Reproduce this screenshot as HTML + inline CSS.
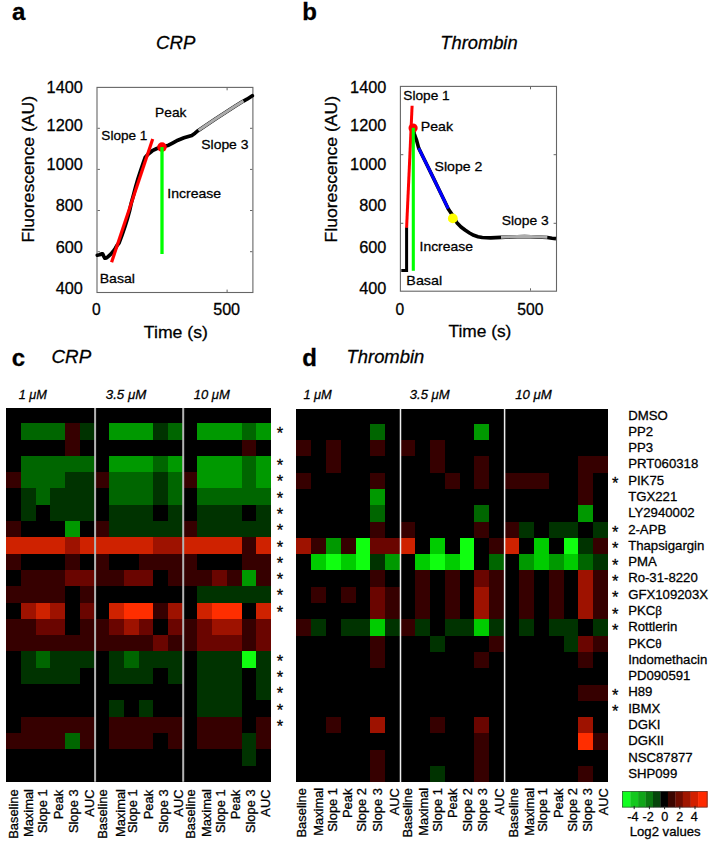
<!DOCTYPE html>
<html><head><meta charset="utf-8"><style>
html,body{margin:0;padding:0;background:#fff;}
body{width:710px;height:842px;overflow:hidden;}
svg{display:block;}
text{font-family:"Liberation Sans", sans-serif;fill:#000;stroke:#000;stroke-width:0.28px;}
text.b{font-weight:bold;}
text.i{font-style:italic;}
.sr{font-family:"Liberation Serif", serif;}
</style></head><body>
<svg width="710" height="842" viewBox="0 0 710 842">
<rect width="710" height="842" fill="#fff"/>
<g shape-rendering="crispEdges">
<rect x="6.30" y="408.00" width="264.70" height="373.79" fill="#000"/>
<rect x="21.01" y="423.30" width="44.12" height="16.30" fill="#006600"/>
<rect x="65.12" y="423.30" width="14.71" height="16.30" fill="#360000"/>
<rect x="79.83" y="423.30" width="14.71" height="16.30" fill="#003300"/>
<rect x="109.24" y="423.30" width="44.12" height="16.30" fill="#009900"/>
<rect x="153.36" y="423.30" width="14.71" height="16.30" fill="#003300"/>
<rect x="168.06" y="423.30" width="14.71" height="16.30" fill="#006600"/>
<rect x="197.47" y="423.30" width="44.12" height="16.30" fill="#009900"/>
<rect x="241.59" y="423.30" width="14.71" height="16.30" fill="#006600"/>
<rect x="256.29" y="423.30" width="14.71" height="16.30" fill="#009900"/>
<rect x="65.12" y="439.60" width="14.71" height="16.29" fill="#360000"/>
<rect x="241.59" y="439.60" width="14.71" height="16.29" fill="#360000"/>
<rect x="21.01" y="455.89" width="73.53" height="16.30" fill="#006600"/>
<rect x="109.24" y="455.89" width="44.12" height="16.30" fill="#009900"/>
<rect x="153.36" y="455.89" width="14.71" height="16.30" fill="#006600"/>
<rect x="168.06" y="455.89" width="14.71" height="16.30" fill="#009900"/>
<rect x="197.47" y="455.89" width="44.12" height="16.30" fill="#009900"/>
<rect x="241.59" y="455.89" width="14.71" height="16.30" fill="#006600"/>
<rect x="256.29" y="455.89" width="14.71" height="16.30" fill="#009900"/>
<rect x="6.30" y="472.19" width="14.71" height="16.30" fill="#360000"/>
<rect x="21.01" y="472.19" width="44.12" height="16.30" fill="#006600"/>
<rect x="65.12" y="472.19" width="29.41" height="16.30" fill="#003300"/>
<rect x="94.53" y="472.19" width="14.71" height="16.30" fill="#360000"/>
<rect x="109.24" y="472.19" width="44.12" height="16.30" fill="#006600"/>
<rect x="153.36" y="472.19" width="14.71" height="16.30" fill="#003300"/>
<rect x="168.06" y="472.19" width="14.71" height="16.30" fill="#006600"/>
<rect x="182.77" y="472.19" width="14.71" height="16.30" fill="#360000"/>
<rect x="197.47" y="472.19" width="44.12" height="16.30" fill="#009900"/>
<rect x="241.59" y="472.19" width="14.71" height="16.30" fill="#006600"/>
<rect x="256.29" y="472.19" width="14.71" height="16.30" fill="#009900"/>
<rect x="21.01" y="488.48" width="14.71" height="16.30" fill="#003300"/>
<rect x="35.71" y="488.48" width="14.71" height="16.30" fill="#006600"/>
<rect x="50.42" y="488.48" width="44.12" height="16.30" fill="#003300"/>
<rect x="109.24" y="488.48" width="44.12" height="16.30" fill="#006600"/>
<rect x="153.36" y="488.48" width="14.71" height="16.30" fill="#003300"/>
<rect x="168.06" y="488.48" width="14.71" height="16.30" fill="#006600"/>
<rect x="197.47" y="488.48" width="73.53" height="16.30" fill="#006600"/>
<rect x="21.01" y="504.78" width="14.71" height="16.30" fill="#003300"/>
<rect x="50.42" y="504.78" width="44.12" height="16.30" fill="#003300"/>
<rect x="109.24" y="504.78" width="44.12" height="16.30" fill="#003300"/>
<rect x="168.06" y="504.78" width="14.71" height="16.30" fill="#003300"/>
<rect x="197.47" y="504.78" width="44.12" height="16.30" fill="#003300"/>
<rect x="256.29" y="504.78" width="14.71" height="16.30" fill="#003300"/>
<rect x="6.30" y="521.07" width="14.71" height="16.29" fill="#360000"/>
<rect x="65.12" y="521.07" width="14.71" height="16.29" fill="#009900"/>
<rect x="94.53" y="521.07" width="14.71" height="16.29" fill="#360000"/>
<rect x="109.24" y="521.07" width="73.53" height="16.29" fill="#003300"/>
<rect x="182.77" y="521.07" width="14.71" height="16.29" fill="#360000"/>
<rect x="197.47" y="521.07" width="73.53" height="16.29" fill="#003300"/>
<rect x="6.30" y="537.37" width="58.82" height="16.30" fill="#cf2200"/>
<rect x="65.12" y="537.37" width="14.71" height="16.30" fill="#9e1200"/>
<rect x="79.83" y="537.37" width="73.53" height="16.30" fill="#cf2200"/>
<rect x="153.36" y="537.37" width="29.41" height="16.30" fill="#9e1200"/>
<rect x="182.77" y="537.37" width="58.82" height="16.30" fill="#cf2200"/>
<rect x="241.59" y="537.37" width="14.71" height="16.30" fill="#360000"/>
<rect x="256.29" y="537.37" width="14.71" height="16.30" fill="#cf2200"/>
<rect x="6.30" y="553.66" width="14.71" height="16.29" fill="#360000"/>
<rect x="65.12" y="553.66" width="14.71" height="16.29" fill="#360000"/>
<rect x="94.53" y="553.66" width="14.71" height="16.29" fill="#360000"/>
<rect x="138.65" y="553.66" width="58.82" height="16.29" fill="#360000"/>
<rect x="241.59" y="553.66" width="29.41" height="16.29" fill="#360000"/>
<rect x="21.01" y="569.96" width="44.12" height="16.29" fill="#360000"/>
<rect x="65.12" y="569.96" width="29.41" height="16.29" fill="#6a0500"/>
<rect x="94.53" y="569.96" width="29.41" height="16.29" fill="#360000"/>
<rect x="123.94" y="569.96" width="29.41" height="16.29" fill="#6a0500"/>
<rect x="168.06" y="569.96" width="44.12" height="16.29" fill="#360000"/>
<rect x="212.18" y="569.96" width="14.71" height="16.29" fill="#6a0500"/>
<rect x="226.88" y="569.96" width="14.71" height="16.29" fill="#360000"/>
<rect x="241.59" y="569.96" width="14.71" height="16.29" fill="#009900"/>
<rect x="256.29" y="569.96" width="14.71" height="16.29" fill="#360000"/>
<rect x="6.30" y="586.25" width="58.82" height="16.30" fill="#360000"/>
<rect x="79.83" y="586.25" width="14.71" height="16.30" fill="#360000"/>
<rect x="197.47" y="586.25" width="73.53" height="16.30" fill="#003300"/>
<rect x="21.01" y="602.55" width="14.71" height="16.29" fill="#9e1200"/>
<rect x="35.71" y="602.55" width="14.71" height="16.29" fill="#cf2200"/>
<rect x="50.42" y="602.55" width="14.71" height="16.29" fill="#9e1200"/>
<rect x="79.83" y="602.55" width="14.71" height="16.29" fill="#6a0500"/>
<rect x="109.24" y="602.55" width="14.71" height="16.29" fill="#cf2200"/>
<rect x="123.94" y="602.55" width="29.41" height="16.29" fill="#ff2e00"/>
<rect x="153.36" y="602.55" width="14.71" height="16.29" fill="#360000"/>
<rect x="168.06" y="602.55" width="14.71" height="16.29" fill="#9e1200"/>
<rect x="197.47" y="602.55" width="14.71" height="16.29" fill="#cf2200"/>
<rect x="212.18" y="602.55" width="29.41" height="16.29" fill="#ff2e00"/>
<rect x="256.29" y="602.55" width="14.71" height="16.29" fill="#cf2200"/>
<rect x="6.30" y="618.84" width="29.41" height="16.29" fill="#360000"/>
<rect x="35.71" y="618.84" width="29.41" height="16.29" fill="#6a0500"/>
<rect x="79.83" y="618.84" width="29.41" height="16.29" fill="#360000"/>
<rect x="109.24" y="618.84" width="14.71" height="16.29" fill="#6a0500"/>
<rect x="123.94" y="618.84" width="14.71" height="16.29" fill="#9e1200"/>
<rect x="138.65" y="618.84" width="14.71" height="16.29" fill="#6a0500"/>
<rect x="168.06" y="618.84" width="14.71" height="16.29" fill="#6a0500"/>
<rect x="182.77" y="618.84" width="14.71" height="16.29" fill="#360000"/>
<rect x="197.47" y="618.84" width="14.71" height="16.29" fill="#6a0500"/>
<rect x="212.18" y="618.84" width="29.41" height="16.29" fill="#9e1200"/>
<rect x="241.59" y="618.84" width="14.71" height="16.29" fill="#360000"/>
<rect x="256.29" y="618.84" width="14.71" height="16.29" fill="#6a0500"/>
<rect x="6.30" y="635.13" width="147.06" height="16.30" fill="#360000"/>
<rect x="153.36" y="635.13" width="14.71" height="16.30" fill="#6a0500"/>
<rect x="168.06" y="635.13" width="29.41" height="16.30" fill="#360000"/>
<rect x="197.47" y="635.13" width="44.12" height="16.30" fill="#6a0500"/>
<rect x="241.59" y="635.13" width="14.71" height="16.30" fill="#360000"/>
<rect x="256.29" y="635.13" width="14.71" height="16.30" fill="#6a0500"/>
<rect x="21.01" y="651.43" width="14.71" height="16.29" fill="#003300"/>
<rect x="35.71" y="651.43" width="14.71" height="16.29" fill="#006600"/>
<rect x="50.42" y="651.43" width="44.12" height="16.29" fill="#003300"/>
<rect x="109.24" y="651.43" width="14.71" height="16.29" fill="#003300"/>
<rect x="123.94" y="651.43" width="14.71" height="16.29" fill="#006600"/>
<rect x="138.65" y="651.43" width="44.12" height="16.29" fill="#003300"/>
<rect x="197.47" y="651.43" width="44.12" height="16.29" fill="#003300"/>
<rect x="241.59" y="651.43" width="14.71" height="16.29" fill="#10ff10"/>
<rect x="256.29" y="651.43" width="14.71" height="16.29" fill="#003300"/>
<rect x="21.01" y="667.73" width="58.82" height="16.29" fill="#003300"/>
<rect x="109.24" y="667.73" width="44.12" height="16.29" fill="#003300"/>
<rect x="168.06" y="667.73" width="14.71" height="16.29" fill="#003300"/>
<rect x="197.47" y="667.73" width="44.12" height="16.29" fill="#003300"/>
<rect x="256.29" y="667.73" width="14.71" height="16.29" fill="#003300"/>
<rect x="197.47" y="684.02" width="44.12" height="16.30" fill="#003300"/>
<rect x="256.29" y="684.02" width="14.71" height="16.30" fill="#003300"/>
<rect x="109.24" y="700.32" width="14.71" height="16.30" fill="#003300"/>
<rect x="138.65" y="700.32" width="14.71" height="16.30" fill="#003300"/>
<rect x="197.47" y="700.32" width="44.12" height="16.30" fill="#003300"/>
<rect x="21.01" y="716.61" width="73.53" height="16.29" fill="#360000"/>
<rect x="109.24" y="716.61" width="73.53" height="16.29" fill="#360000"/>
<rect x="197.47" y="716.61" width="44.12" height="16.29" fill="#360000"/>
<rect x="256.29" y="716.61" width="14.71" height="16.29" fill="#360000"/>
<rect x="6.30" y="732.90" width="58.82" height="16.30" fill="#360000"/>
<rect x="65.12" y="732.90" width="14.71" height="16.30" fill="#006600"/>
<rect x="79.83" y="732.90" width="14.71" height="16.30" fill="#360000"/>
<rect x="109.24" y="732.90" width="44.12" height="16.30" fill="#360000"/>
<rect x="168.06" y="732.90" width="14.71" height="16.30" fill="#360000"/>
<rect x="197.47" y="732.90" width="44.12" height="16.30" fill="#360000"/>
<rect x="241.59" y="732.90" width="14.71" height="16.30" fill="#003300"/>
<rect x="256.29" y="732.90" width="14.71" height="16.30" fill="#360000"/>
<rect x="241.59" y="749.20" width="14.71" height="16.30" fill="#003300"/>
<rect x="296.20" y="408.70" width="312.00" height="373.59" fill="#000"/>
<rect x="370.49" y="423.80" width="14.86" height="16.30" fill="#006600"/>
<rect x="474.49" y="423.80" width="14.86" height="16.30" fill="#009900"/>
<rect x="296.20" y="440.10" width="14.86" height="16.29" fill="#360000"/>
<rect x="325.91" y="440.10" width="14.86" height="16.29" fill="#360000"/>
<rect x="370.49" y="440.10" width="14.86" height="16.29" fill="#360000"/>
<rect x="400.20" y="440.10" width="14.86" height="16.29" fill="#360000"/>
<rect x="429.91" y="440.10" width="14.86" height="16.29" fill="#360000"/>
<rect x="325.91" y="456.39" width="14.86" height="16.30" fill="#360000"/>
<rect x="429.91" y="456.39" width="14.86" height="16.30" fill="#360000"/>
<rect x="474.49" y="456.39" width="14.86" height="16.30" fill="#360000"/>
<rect x="578.49" y="456.39" width="29.71" height="16.30" fill="#360000"/>
<rect x="296.20" y="472.69" width="14.86" height="16.30" fill="#360000"/>
<rect x="370.49" y="472.69" width="14.86" height="16.30" fill="#360000"/>
<rect x="444.77" y="472.69" width="14.86" height="16.30" fill="#360000"/>
<rect x="474.49" y="472.69" width="14.86" height="16.30" fill="#360000"/>
<rect x="504.20" y="472.69" width="44.57" height="16.30" fill="#360000"/>
<rect x="578.49" y="472.69" width="14.86" height="16.30" fill="#360000"/>
<rect x="370.49" y="488.98" width="14.86" height="16.30" fill="#009900"/>
<rect x="578.49" y="488.98" width="14.86" height="16.30" fill="#360000"/>
<rect x="370.49" y="505.28" width="14.86" height="16.30" fill="#006600"/>
<rect x="474.49" y="505.28" width="14.86" height="16.30" fill="#006600"/>
<rect x="578.49" y="505.28" width="14.86" height="16.30" fill="#009900"/>
<rect x="370.49" y="521.57" width="14.86" height="16.29" fill="#360000"/>
<rect x="400.20" y="521.57" width="14.86" height="16.29" fill="#360000"/>
<rect x="474.49" y="521.57" width="14.86" height="16.29" fill="#360000"/>
<rect x="504.20" y="521.57" width="14.86" height="16.29" fill="#360000"/>
<rect x="519.06" y="521.57" width="14.86" height="16.29" fill="#003300"/>
<rect x="548.77" y="521.57" width="29.71" height="16.29" fill="#003300"/>
<rect x="593.34" y="521.57" width="14.86" height="16.29" fill="#003300"/>
<rect x="296.20" y="537.87" width="14.86" height="16.30" fill="#9e1200"/>
<rect x="311.06" y="537.87" width="14.86" height="16.30" fill="#360000"/>
<rect x="325.91" y="537.87" width="14.86" height="16.30" fill="#009900"/>
<rect x="340.77" y="537.87" width="14.86" height="16.30" fill="#360000"/>
<rect x="355.63" y="537.87" width="14.86" height="16.30" fill="#10ff10"/>
<rect x="370.49" y="537.87" width="29.71" height="16.30" fill="#6a0500"/>
<rect x="400.20" y="537.87" width="14.86" height="16.30" fill="#cf2200"/>
<rect x="429.91" y="537.87" width="14.86" height="16.30" fill="#00cc00"/>
<rect x="459.63" y="537.87" width="14.86" height="16.30" fill="#10ff10"/>
<rect x="489.34" y="537.87" width="14.86" height="16.30" fill="#360000"/>
<rect x="504.20" y="537.87" width="14.86" height="16.30" fill="#cf2200"/>
<rect x="533.91" y="537.87" width="14.86" height="16.30" fill="#00cc00"/>
<rect x="563.63" y="537.87" width="14.86" height="16.30" fill="#10ff10"/>
<rect x="578.49" y="537.87" width="14.86" height="16.30" fill="#003300"/>
<rect x="593.34" y="537.87" width="14.86" height="16.30" fill="#360000"/>
<rect x="311.06" y="554.16" width="14.86" height="16.29" fill="#00cc00"/>
<rect x="325.91" y="554.16" width="14.86" height="16.29" fill="#10ff10"/>
<rect x="340.77" y="554.16" width="14.86" height="16.29" fill="#00cc00"/>
<rect x="355.63" y="554.16" width="14.86" height="16.29" fill="#10ff10"/>
<rect x="370.49" y="554.16" width="14.86" height="16.29" fill="#003300"/>
<rect x="385.34" y="554.16" width="14.86" height="16.29" fill="#009900"/>
<rect x="415.06" y="554.16" width="14.86" height="16.29" fill="#00cc00"/>
<rect x="429.91" y="554.16" width="14.86" height="16.29" fill="#10ff10"/>
<rect x="444.77" y="554.16" width="14.86" height="16.29" fill="#00cc00"/>
<rect x="459.63" y="554.16" width="14.86" height="16.29" fill="#10ff10"/>
<rect x="489.34" y="554.16" width="14.86" height="16.29" fill="#006600"/>
<rect x="519.06" y="554.16" width="14.86" height="16.29" fill="#009900"/>
<rect x="533.91" y="554.16" width="14.86" height="16.29" fill="#00cc00"/>
<rect x="548.77" y="554.16" width="14.86" height="16.29" fill="#009900"/>
<rect x="563.63" y="554.16" width="14.86" height="16.29" fill="#00cc00"/>
<rect x="578.49" y="554.16" width="14.86" height="16.29" fill="#006600"/>
<rect x="593.34" y="554.16" width="14.86" height="16.29" fill="#003300"/>
<rect x="370.49" y="570.46" width="14.86" height="16.29" fill="#360000"/>
<rect x="415.06" y="570.46" width="14.86" height="16.29" fill="#360000"/>
<rect x="444.77" y="570.46" width="14.86" height="16.29" fill="#360000"/>
<rect x="474.49" y="570.46" width="14.86" height="16.29" fill="#6a0500"/>
<rect x="489.34" y="570.46" width="14.86" height="16.29" fill="#360000"/>
<rect x="519.06" y="570.46" width="14.86" height="16.29" fill="#360000"/>
<rect x="548.77" y="570.46" width="14.86" height="16.29" fill="#360000"/>
<rect x="578.49" y="570.46" width="14.86" height="16.29" fill="#9e1200"/>
<rect x="593.34" y="570.46" width="14.86" height="16.29" fill="#360000"/>
<rect x="311.06" y="586.75" width="14.86" height="16.30" fill="#360000"/>
<rect x="340.77" y="586.75" width="14.86" height="16.30" fill="#360000"/>
<rect x="370.49" y="586.75" width="14.86" height="16.30" fill="#6a0500"/>
<rect x="385.34" y="586.75" width="14.86" height="16.30" fill="#360000"/>
<rect x="415.06" y="586.75" width="14.86" height="16.30" fill="#360000"/>
<rect x="444.77" y="586.75" width="14.86" height="16.30" fill="#360000"/>
<rect x="474.49" y="586.75" width="14.86" height="16.30" fill="#9e1200"/>
<rect x="489.34" y="586.75" width="14.86" height="16.30" fill="#360000"/>
<rect x="519.06" y="586.75" width="14.86" height="16.30" fill="#360000"/>
<rect x="548.77" y="586.75" width="14.86" height="16.30" fill="#360000"/>
<rect x="578.49" y="586.75" width="14.86" height="16.30" fill="#9e1200"/>
<rect x="593.34" y="586.75" width="14.86" height="16.30" fill="#360000"/>
<rect x="370.49" y="603.05" width="14.86" height="16.29" fill="#6a0500"/>
<rect x="385.34" y="603.05" width="14.86" height="16.29" fill="#360000"/>
<rect x="415.06" y="603.05" width="14.86" height="16.29" fill="#360000"/>
<rect x="444.77" y="603.05" width="14.86" height="16.29" fill="#360000"/>
<rect x="474.49" y="603.05" width="14.86" height="16.29" fill="#9e1200"/>
<rect x="489.34" y="603.05" width="14.86" height="16.29" fill="#360000"/>
<rect x="519.06" y="603.05" width="14.86" height="16.29" fill="#360000"/>
<rect x="548.77" y="603.05" width="14.86" height="16.29" fill="#360000"/>
<rect x="578.49" y="603.05" width="14.86" height="16.29" fill="#9e1200"/>
<rect x="593.34" y="603.05" width="14.86" height="16.29" fill="#360000"/>
<rect x="296.20" y="619.34" width="14.86" height="16.29" fill="#360000"/>
<rect x="311.06" y="619.34" width="14.86" height="16.29" fill="#003300"/>
<rect x="340.77" y="619.34" width="29.71" height="16.29" fill="#003300"/>
<rect x="370.49" y="619.34" width="14.86" height="16.29" fill="#00cc00"/>
<rect x="385.34" y="619.34" width="14.86" height="16.29" fill="#003300"/>
<rect x="400.20" y="619.34" width="14.86" height="16.29" fill="#360000"/>
<rect x="415.06" y="619.34" width="14.86" height="16.29" fill="#003300"/>
<rect x="444.77" y="619.34" width="29.71" height="16.29" fill="#003300"/>
<rect x="474.49" y="619.34" width="14.86" height="16.29" fill="#00cc00"/>
<rect x="489.34" y="619.34" width="14.86" height="16.29" fill="#003300"/>
<rect x="519.06" y="619.34" width="14.86" height="16.29" fill="#003300"/>
<rect x="548.77" y="619.34" width="29.71" height="16.29" fill="#003300"/>
<rect x="593.34" y="619.34" width="14.86" height="16.29" fill="#003300"/>
<rect x="370.49" y="635.63" width="14.86" height="16.30" fill="#360000"/>
<rect x="429.91" y="635.63" width="14.86" height="16.30" fill="#003300"/>
<rect x="489.34" y="635.63" width="14.86" height="16.30" fill="#360000"/>
<rect x="563.63" y="635.63" width="14.86" height="16.30" fill="#003300"/>
<rect x="578.49" y="635.63" width="14.86" height="16.30" fill="#6a0500"/>
<rect x="593.34" y="635.63" width="14.86" height="16.30" fill="#360000"/>
<rect x="370.49" y="651.93" width="14.86" height="16.29" fill="#360000"/>
<rect x="474.49" y="651.93" width="14.86" height="16.29" fill="#360000"/>
<rect x="578.49" y="651.93" width="14.86" height="16.29" fill="#360000"/>
<rect x="578.49" y="684.52" width="29.71" height="16.30" fill="#360000"/>
<rect x="325.91" y="717.11" width="14.86" height="16.29" fill="#360000"/>
<rect x="370.49" y="717.11" width="14.86" height="16.29" fill="#9e1200"/>
<rect x="429.91" y="717.11" width="14.86" height="16.29" fill="#360000"/>
<rect x="474.49" y="717.11" width="14.86" height="16.29" fill="#6a0500"/>
<rect x="578.49" y="717.11" width="14.86" height="16.29" fill="#9e1200"/>
<rect x="474.49" y="733.40" width="14.86" height="16.30" fill="#360000"/>
<rect x="578.49" y="733.40" width="14.86" height="16.30" fill="#ff2e00"/>
<rect x="593.34" y="733.40" width="14.86" height="16.30" fill="#360000"/>
<rect x="370.49" y="749.70" width="14.86" height="16.30" fill="#360000"/>
<rect x="474.49" y="749.70" width="14.86" height="16.30" fill="#360000"/>
<rect x="370.49" y="766.00" width="14.86" height="16.29" fill="#360000"/>
<rect x="429.91" y="766.00" width="14.86" height="16.29" fill="#003300"/>
<rect x="474.49" y="766.00" width="14.86" height="16.29" fill="#360000"/>
<rect x="578.49" y="766.00" width="14.86" height="16.29" fill="#360000"/>
</g>
<rect x="94.10" y="408.00" width="2.00" height="373.79" fill="#b4b4b4"/>
<rect x="182.20" y="408.00" width="2.00" height="373.79" fill="#b4b4b4"/>
<rect x="399.75" y="408.70" width="1.50" height="373.59" fill="#eeeeee"/>
<rect x="503.85" y="408.70" width="1.50" height="373.59" fill="#eeeeee"/>
<rect x="622.15" y="791.2" width="8.45" height="16.20" fill="#10ff20"/>
<rect x="630.30" y="791.2" width="8.10" height="16.20" fill="#14c81e"/>
<rect x="638.10" y="791.2" width="7.70" height="16.20" fill="#10a518"/>
<rect x="645.50" y="791.2" width="7.80" height="16.20" fill="#0a780f"/>
<rect x="653.00" y="791.2" width="7.70" height="16.20" fill="#05460a"/>
<rect x="660.40" y="791.2" width="7.80" height="16.20" fill="#000000"/>
<rect x="667.90" y="791.2" width="7.80" height="16.20" fill="#3c0500"/>
<rect x="675.40" y="791.2" width="7.70" height="16.20" fill="#6e0c00"/>
<rect x="682.80" y="791.2" width="8.10" height="16.20" fill="#a01600"/>
<rect x="690.60" y="791.2" width="7.80" height="16.20" fill="#d22000"/>
<rect x="698.10" y="791.2" width="9.60" height="16.20" fill="#ff2a00"/>
<rect x="622.40" y="791.50" width="84.70" height="15.60" fill="none" stroke="#333" stroke-width="0.6"/>
<line x1="634.2" y1="805.9" x2="634.2" y2="809.1999999999999" stroke="#222" stroke-width="1"/>
<line x1="649.4" y1="805.9" x2="649.4" y2="809.1999999999999" stroke="#222" stroke-width="1"/>
<line x1="664.6" y1="805.9" x2="664.6" y2="809.1999999999999" stroke="#222" stroke-width="1"/>
<line x1="679.8" y1="805.9" x2="679.8" y2="809.1999999999999" stroke="#222" stroke-width="1"/>
<line x1="695.0" y1="805.9" x2="695.0" y2="809.1999999999999" stroke="#222" stroke-width="1"/>
<rect x="97.00" y="87.40" width="155.90" height="205.10" fill="none" stroke="#666" stroke-width="1.1"/>
<path d="M227.10 87.90v2.4M227.10 292.00v-2.4" stroke="#666" stroke-width="1"/>
<path d="M97.50 128.30h2.4M252.40 128.30h-2.4" stroke="#666" stroke-width="1"/>
<path d="M97.50 169.40h2.4M252.40 169.40h-2.4" stroke="#666" stroke-width="1"/>
<path d="M97.50 210.50h2.4M252.40 210.50h-2.4" stroke="#666" stroke-width="1"/>
<path d="M97.50 251.70h2.4M252.40 251.70h-2.4" stroke="#666" stroke-width="1"/>
<rect x="400.40" y="86.40" width="156.10" height="204.80" fill="none" stroke="#666" stroke-width="1.1"/>
<path d="M530.50 86.90v2.4M530.50 290.70v-2.4" stroke="#666" stroke-width="1"/>
<path d="M400.90 154.70h2.4M556.00 154.70h-2.4" stroke="#666" stroke-width="1"/>
<path d="M400.90 223.30h2.4M556.00 223.30h-2.4" stroke="#666" stroke-width="1"/>
<polyline points="97.3,255.2 99.5,254.8 101.5,253.9 102.6,253.9 103.8,256.4 104.9,258.2 106.5,257.9 107.8,256.8 110.8,254.1 113.3,251.2 115.2,248.5 117.0,245.5 119.0,243.0 122.0,235.0 124.8,227.0 127.3,219.0 129.5,211.0 131.3,203.0 133.5,195.0 135.6,187.0 137.9,179.0 140.5,171.0 143.2,163.0 145.3,157.2 148.0,154.3 152.4,150.7 156.9,148.5 159.6,147.6 162.0,147.0 165.0,146.3 168.6,145.2 173.0,142.8 177.9,140.2 184.0,137.8 191.8,135.4 195.0,133.2 198.0,130.7 205.0,126.0 215.0,119.3 225.0,112.7 235.0,106.3 243.0,101.3 247.0,99.2 252.3,95.8" fill="none" stroke="#000" stroke-width="3.7" stroke-linejoin="round" stroke-linecap="round"/>
<polyline points="198.5,130.4 205.0,126.0 215.0,119.3 225.0,112.7 235.0,106.3 243.5,101.0" fill="none" stroke="#acacac" stroke-width="2.9" stroke-linejoin="round"/>
<line x1="111.6" y1="262.2" x2="152.7" y2="139.0" stroke="#f00" stroke-width="3.2"/>
<circle cx="162.0" cy="147.1" r="4.8" fill="#f00"/>
<line x1="162.0" y1="147.1" x2="162.0" y2="254.0" stroke="#0f0" stroke-width="3.3"/>
<polyline points="401.3,270.6 406.6,270.6 406.6,227.3" fill="none" stroke="#000" stroke-width="3" stroke-linejoin="miter"/>
<polyline points="413.0,128.8 414.2,133.5 416.5,140.0 418.7,148.1 423.3,157.5 428.0,167.0 433.2,177.6 437.5,186.5 441.6,195.0 445.0,202.0 448.2,208.7 452.7,215.5 456.9,222.7 461.0,227.0 465.4,230.3 469.5,233.0 473.8,235.3 478.0,236.7 482.3,237.5 490.7,237.9 500.8,237.4 510.0,237.0 524.5,236.5 537.0,237.0 547.3,237.5 552.0,238.2 556.0,238.6" fill="none" stroke="#000" stroke-width="3.6" stroke-linejoin="round"/>
<polyline points="418.7,148.1 423.3,157.5 428.0,167.0 433.2,177.6 437.5,186.5 441.6,195.0 445.0,202.0 448.2,208.7" fill="none" stroke="#00f" stroke-width="3.0" stroke-linejoin="round"/>
<polyline points="501.0,237.2 510.0,236.8 524.5,236.3 537.0,236.8 547.3,237.3" fill="none" stroke="#acacac" stroke-width="2.9" stroke-linejoin="round"/>
<line x1="406.6" y1="227.8" x2="412.1" y2="105.8" stroke="#f00" stroke-width="3.0"/>
<circle cx="413.1" cy="128.1" r="4.6" fill="#f00"/>
<line x1="413.3" y1="127.8" x2="413.3" y2="270.8" stroke="#0f0" stroke-width="3.1"/>
<circle cx="452.8" cy="218.4" r="4.9" fill="#ff0"/>
<text x="11.98" y="19.90" font-size="24.00" class="b">a</text>
<text x="302.24" y="19.90" font-size="24.00" class="b">b</text>
<text x="11.84" y="365.60" font-size="24.00" class="b">c</text>
<text x="302.14" y="365.60" font-size="24.00" class="b">d</text>
<text x="156.07" y="49.00" font-size="18.60" class="i">CRP</text>
<text x="440.35" y="48.80" font-size="18.40" class="i" textLength="77.25" lengthAdjust="spacingAndGlyphs">Thrombin</text>
<text x="51.57" y="363.40" font-size="18.60" class="i" textLength="39.65" lengthAdjust="spacingAndGlyphs">CRP</text>
<text x="346.55" y="363.20" font-size="18.40" class="i">Thrombin</text>
<text x="18.68" y="399.20" font-size="13.00" class="i" textLength="28.22" lengthAdjust="spacingAndGlyphs">1 μM</text>
<text x="105.77" y="399.20" font-size="13.00" class="i" textLength="40.52" lengthAdjust="spacingAndGlyphs">3.5 μM</text>
<text x="193.78" y="399.20" font-size="13.00" class="i">10 μM</text>
<text x="303.38" y="399.20" font-size="13.00" class="i" textLength="28.42" lengthAdjust="spacingAndGlyphs">1 μM</text>
<text x="409.77" y="399.20" font-size="13.00" class="i" textLength="39.91" lengthAdjust="spacingAndGlyphs">3.5 μM</text>
<text x="515.27" y="399.20" font-size="13.00" class="i" textLength="36.58" lengthAdjust="spacingAndGlyphs">10 μM</text>
<text x="46.60" y="92.81" font-size="16.30">1400</text>
<text x="350.10" y="93.01" font-size="16.30">1400</text>
<text x="46.60" y="130.71" font-size="16.30">1200</text>
<text x="350.10" y="130.91" font-size="16.30">1200</text>
<text x="46.60" y="170.21" font-size="16.30">1000</text>
<text x="350.10" y="170.41" font-size="16.30">1000</text>
<text x="55.73" y="211.21" font-size="16.30">800</text>
<text x="359.23" y="211.41" font-size="16.30">800</text>
<text x="55.73" y="252.71" font-size="16.30">600</text>
<text x="359.23" y="252.91" font-size="16.30">600</text>
<text x="55.73" y="294.21" font-size="16.30">400</text>
<text x="359.23" y="294.41" font-size="16.30">400</text>
<text x="91.98" y="315.02" font-size="15.60">0</text>
<text x="213.15" y="315.32" font-size="15.60" textLength="26.97" lengthAdjust="spacingAndGlyphs">500</text>
<text x="395.38" y="314.82" font-size="15.60">0</text>
<text x="517.27" y="314.82" font-size="15.60" textLength="26.23" lengthAdjust="spacingAndGlyphs">500</text>
<text x="143.85" y="338.10" font-size="17.00" textLength="64.08" lengthAdjust="spacingAndGlyphs">Time (s)</text>
<text x="448.45" y="337.40" font-size="17.00" textLength="62.96" lengthAdjust="spacingAndGlyphs">Time (s)</text>
<text font-size="17.20" transform="translate(33.70,242.41) rotate(-90)" textLength="146.48" lengthAdjust="spacingAndGlyphs">Fluorescence (AU)</text>
<text font-size="17.20" transform="translate(337.30,242.41) rotate(-90)" textLength="146.48" lengthAdjust="spacingAndGlyphs">Fluorescence (AU)</text>
<text x="101.39" y="139.80" font-size="13.50" textLength="46.05" lengthAdjust="spacingAndGlyphs">Slope 1</text>
<text x="155.10" y="116.80" font-size="13.50" textLength="31.29" lengthAdjust="spacingAndGlyphs">Peak</text>
<text x="201.27" y="148.50" font-size="13.50" textLength="47.21" lengthAdjust="spacingAndGlyphs">Slope 3</text>
<text x="167.34" y="198.40" font-size="13.50" textLength="53.80" lengthAdjust="spacingAndGlyphs">Increase</text>
<text x="99.67" y="283.20" font-size="13.50" textLength="35.27" lengthAdjust="spacingAndGlyphs">Basal</text>
<text x="403.38" y="100.20" font-size="13.50" textLength="46.35" lengthAdjust="spacingAndGlyphs">Slope 1</text>
<text x="420.87" y="131.40" font-size="13.50" textLength="32.12" lengthAdjust="spacingAndGlyphs">Peak</text>
<text x="434.56" y="171.00" font-size="13.50" textLength="47.86" lengthAdjust="spacingAndGlyphs">Slope 2</text>
<text x="501.78" y="224.60" font-size="13.50" textLength="47.00" lengthAdjust="spacingAndGlyphs">Slope 3</text>
<text x="419.55" y="250.60" font-size="13.50" textLength="53.39" lengthAdjust="spacingAndGlyphs">Increase</text>
<text x="406.36" y="284.70" font-size="13.50" textLength="35.80" lengthAdjust="spacingAndGlyphs">Basal</text>
<text x="276.85" y="438.53" font-size="16.50">*</text>
<text x="276.85" y="471.12" font-size="16.50">*</text>
<text x="276.85" y="487.42" font-size="16.50">*</text>
<text x="276.85" y="503.71" font-size="16.50">*</text>
<text x="276.85" y="520.01" font-size="16.50">*</text>
<text x="276.85" y="536.30" font-size="16.50">*</text>
<text x="276.85" y="552.60" font-size="16.50">*</text>
<text x="276.85" y="568.89" font-size="16.50">*</text>
<text x="276.85" y="585.19" font-size="16.50">*</text>
<text x="276.85" y="601.48" font-size="16.50">*</text>
<text x="276.85" y="617.78" font-size="16.50">*</text>
<text x="276.85" y="666.66" font-size="16.50">*</text>
<text x="276.85" y="682.96" font-size="16.50">*</text>
<text x="276.85" y="699.25" font-size="16.50">*</text>
<text x="276.85" y="715.55" font-size="16.50">*</text>
<text x="276.85" y="731.84" font-size="16.50">*</text>
<text x="611.95" y="489.22" font-size="16.50">*</text>
<text x="611.95" y="538.10" font-size="16.50">*</text>
<text x="611.95" y="554.40" font-size="16.50">*</text>
<text x="611.95" y="570.69" font-size="16.50">*</text>
<text x="611.95" y="586.99" font-size="16.50">*</text>
<text x="611.95" y="603.28" font-size="16.50">*</text>
<text x="611.95" y="619.58" font-size="16.50">*</text>
<text x="611.95" y="635.87" font-size="16.50">*</text>
<text x="611.95" y="701.05" font-size="16.50">*</text>
<text x="611.95" y="717.35" font-size="16.50">*</text>
<text x="628.14" y="420.05" font-size="13.2">DMSO</text>
<text x="628.14" y="435.75" font-size="13.2">PP2</text>
<text x="628.14" y="452.04" font-size="13.2">PP3</text>
<text x="628.14" y="468.34" font-size="13.2">PRT060318</text>
<text x="628.14" y="484.63" font-size="13.2">PIK75</text>
<text x="628.14" y="500.93" font-size="13.2">TGX221</text>
<text x="628.14" y="517.22" font-size="13.2">LY2940002</text>
<text x="628.14" y="533.52" font-size="13.2">2-APB</text>
<text x="628.14" y="549.81" font-size="13.2">Thapsigargin</text>
<text x="628.14" y="566.11" font-size="13.2">PMA</text>
<text x="628.14" y="582.40" font-size="13.2">Ro-31-8220</text>
<text x="628.14" y="598.70" font-size="13.2">GFX109203X</text>
<text x="628.14" y="614.99" font-size="13.2">PKC<tspan class="sr">β</tspan></text>
<text x="628.14" y="631.29" font-size="13.2">Rottlerin</text>
<text x="628.14" y="647.58" font-size="13.2">PKC<tspan class="sr">θ</tspan></text>
<text x="628.14" y="663.88" font-size="13.2">Indomethacin</text>
<text x="628.14" y="680.17" font-size="13.2">PD090591</text>
<text x="628.14" y="696.47" font-size="13.2">H89</text>
<text x="628.14" y="712.76" font-size="13.2">IBMX</text>
<text x="628.14" y="729.06" font-size="13.2">DGKI</text>
<text x="628.14" y="745.35" font-size="13.2">DGKII</text>
<text x="628.14" y="761.65" font-size="13.2">NSC87877</text>
<text x="628.14" y="777.94" font-size="13.2">SHP099</text>
<text font-size="12.9" transform="translate(17.60,838.79) rotate(-90)">Baseline</text>
<text font-size="12.9" transform="translate(32.60,837.05) rotate(-90)">Maximal</text>
<text font-size="12.9" transform="translate(47.40,833.05) rotate(-90)">Slope 1</text>
<text font-size="12.9" transform="translate(63.00,819.31) rotate(-90)">Peak</text>
<text font-size="12.9" transform="translate(77.70,833.12) rotate(-90)">Slope 3</text>
<text font-size="12.9" transform="translate(93.80,816.67) rotate(-90)">AUC</text>
<text font-size="12.9" transform="translate(107.30,838.79) rotate(-90)">Baseline</text>
<text font-size="12.9" transform="translate(124.90,837.05) rotate(-90)">Maximal</text>
<text font-size="12.9" transform="translate(137.40,833.05) rotate(-90)">Slope 1</text>
<text font-size="12.9" transform="translate(152.50,819.31) rotate(-90)">Peak</text>
<text font-size="12.9" transform="translate(167.70,833.12) rotate(-90)">Slope 3</text>
<text font-size="12.9" transform="translate(183.10,816.67) rotate(-90)">AUC</text>
<text font-size="12.9" transform="translate(195.30,838.79) rotate(-90)">Baseline</text>
<text font-size="12.9" transform="translate(211.00,837.05) rotate(-90)">Maximal</text>
<text font-size="12.9" transform="translate(224.60,833.05) rotate(-90)">Slope 1</text>
<text font-size="12.9" transform="translate(240.00,819.31) rotate(-90)">Peak</text>
<text font-size="12.9" transform="translate(254.90,833.12) rotate(-90)">Slope 3</text>
<text font-size="12.9" transform="translate(270.10,816.67) rotate(-90)">AUC</text>
<text font-size="12.9" transform="translate(305.50,837.49) rotate(-90)">Baseline</text>
<text font-size="12.9" transform="translate(322.80,835.75) rotate(-90)">Maximal</text>
<text font-size="12.9" transform="translate(336.60,831.75) rotate(-90)">Slope 1</text>
<text font-size="12.9" transform="translate(352.00,818.01) rotate(-90)">Peak</text>
<text font-size="12.9" transform="translate(366.30,831.69) rotate(-90)">Slope 2</text>
<text font-size="12.9" transform="translate(382.30,831.82) rotate(-90)">Slope 3</text>
<text font-size="12.9" transform="translate(398.50,815.37) rotate(-90)">AUC</text>
<text font-size="12.9" transform="translate(412.00,837.49) rotate(-90)">Baseline</text>
<text font-size="12.9" transform="translate(427.50,835.75) rotate(-90)">Maximal</text>
<text font-size="12.9" transform="translate(441.60,831.75) rotate(-90)">Slope 1</text>
<text font-size="12.9" transform="translate(457.00,818.01) rotate(-90)">Peak</text>
<text font-size="12.9" transform="translate(471.80,831.69) rotate(-90)">Slope 2</text>
<text font-size="12.9" transform="translate(487.30,831.82) rotate(-90)">Slope 3</text>
<text font-size="12.9" transform="translate(503.50,815.37) rotate(-90)">AUC</text>
<text font-size="12.9" transform="translate(518.30,837.49) rotate(-90)">Baseline</text>
<text font-size="12.9" transform="translate(534.10,835.75) rotate(-90)">Maximal</text>
<text font-size="12.9" transform="translate(547.40,831.75) rotate(-90)">Slope 1</text>
<text font-size="12.9" transform="translate(562.70,818.01) rotate(-90)">Peak</text>
<text font-size="12.9" transform="translate(576.80,831.69) rotate(-90)">Slope 2</text>
<text font-size="12.9" transform="translate(592.30,831.82) rotate(-90)">Slope 3</text>
<text font-size="12.9" transform="translate(607.70,815.37) rotate(-90)">AUC</text>
<text x="627.33" y="821.29" font-size="12.60">-4</text>
<text x="642.53" y="821.42" font-size="12.60">-2</text>
<text x="661.30" y="821.42" font-size="12.60">0</text>
<text x="676.37" y="821.42" font-size="12.60">2</text>
<text x="690.75" y="821.29" font-size="12.60">4</text>
<text x="629.75" y="836.00" font-size="12.80" textLength="70.79" lengthAdjust="spacingAndGlyphs">Log2 values</text>
</svg>
</body></html>
